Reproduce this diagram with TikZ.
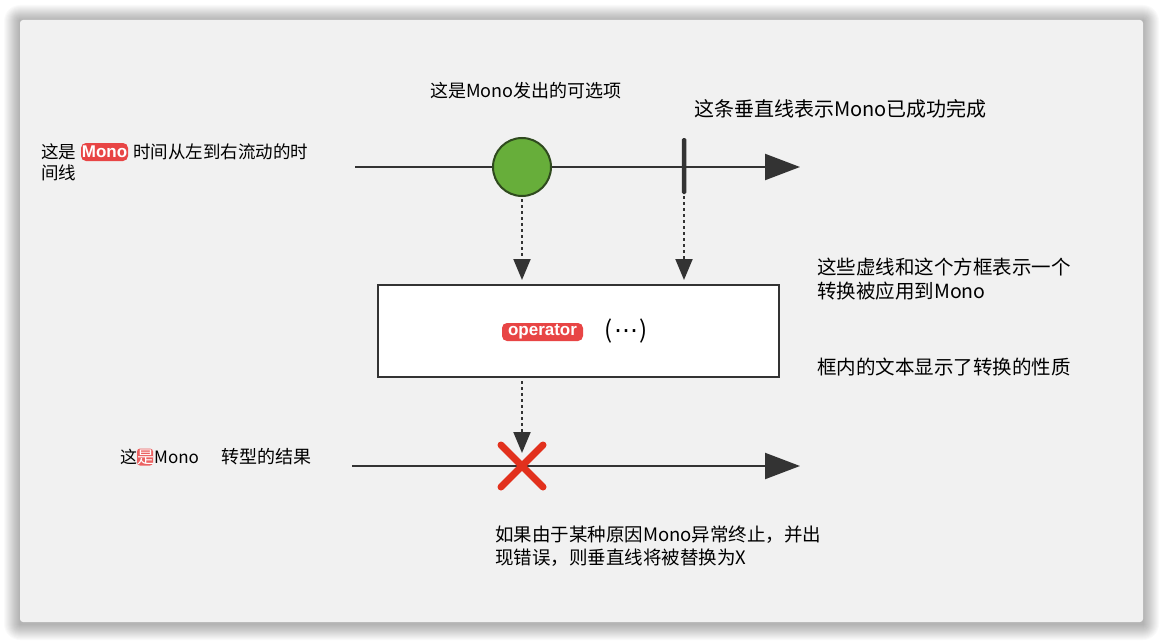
\documentclass[tikz,border=0pt]{standalone}
\usepackage{fontspec}
\setmainfont{Noto Sans CJK SC}
\newfontfamily\tagfont{Liberation Sans}
\newfontfamily\symfont{DejaVu Sans}
\usetikzlibrary{arrows.meta}
\definecolor{panel}{HTML}{F1F1F1}
\definecolor{ink}{HTML}{333333}
\definecolor{grn}{HTML}{67AE3A}
\definecolor{grnedge}{HTML}{2F4A1E}
\definecolor{xred}{HTML}{E2311D}
\definecolor{tagred}{HTML}{E84545}
\tikzset{
  note/.style={anchor=west, inner sep=0pt, align=left, text=black},
  timeline/.style={draw=ink, line width=2.2pt, -{Triangle[length=35pt,width=26pt]}},
  dasharrow/.style={draw=ink, line width=2pt, dash pattern=on 3pt off 3pt,
     -{Triangle[length=21pt,width=17pt]}},
  tagbox/.style={fill=tagred, rounded corners=5pt, inner sep=0pt, text=white,
     font=\tagfont\bfseries\fontsize{17}{17}\selectfont},
}
\begin{document}
\begin{tikzpicture}[x=1pt,y=-1pt]
\useasboundingbox (0,0) rectangle (1163,642);
\fill[white] (0,0) rectangle (1163,642);
% shadow
\foreach \i in {1,...,16}{
  \fill[black, opacity=0.018, rounded corners=\i pt] (20-\i,21-\i) rectangle (1143+\i,624+\i);
}
\fill[panel, rounded corners=3pt] (20,20) rectangle (1143,622);

% timeline 1
\coordinate (s1) at (355,167);
\coordinate (e1) at (800,167);
\draw[timeline] (s1) -- (e1);
\node[circle, draw=grnedge, line width=2pt, fill=grn, minimum size=58pt, inner sep=0pt] (emit) at (522,167) {};
\node[rectangle, fill=ink, minimum width=4.5pt, minimum height=56pt, inner sep=0pt, rounded corners=1.5pt] (done) at (684,166) {};

% operator box
\node[draw=ink, line width=2pt, fill=white, minimum width=401pt, minimum height=92pt, inner sep=0pt] (op) at (578.5,330.5) {};
\node[tagbox, minimum width=81pt, minimum height=18pt] (optag) at (542.5,332) {operator};
\node[inner sep=0pt, font=\fontsize{24}{24}\selectfont] (dots) at (626,331) {(\kern1pt{\symfont ⋯}\kern1pt)};

\coordinate (a1) at (522,280);
\coordinate (a2) at (684,280);
\draw[dasharrow] (emit.south) ++(0,2) -- (a1);
\draw[dasharrow] (done.south) ++(0,2) -- (a2);

% timeline 2
\coordinate (s2) at (352,466);
\coordinate (e2) at (800,466);
\draw[timeline] (s2) -- (e2);
\draw[xred, line width=7pt, line cap=round] (501,445) -- (543,487) (543,445) -- (501,487);
\coordinate (a3) at (522,453);
\coordinate (b3) at (522,381);
\draw[dasharrow] (b3) -- (a3);

% texts
\node[note, font=\fontsize{18}{18}\selectfont] (t1) at (430,91) {这是Mono发出的可选项};
\node[note, font=\fontsize{20}{20}\selectfont] (t2) at (694,109) {这条垂直线表示Mono已成功完成};

\node[tagbox, minimum width=47pt, minimum height=18pt] (monotag) at (104.5,152) {Mono};
\node[note, font=\fontsize{17.5}{17.5}\selectfont] (t3a) at (41,152) {这是};
\node[note, font=\fontsize{17.5}{17.5}\selectfont] (t3b) at (133,152) {时间从左到右流动的时};
\node[note, font=\fontsize{17.5}{17.5}\selectfont] (t3c) at (41,173) {间线};

\node[fill=tagred!85, rounded corners=3pt, minimum width=16pt, minimum height=17pt, inner sep=0pt] (shibg) at (145,457) {};
\node[note, font=\fontsize{17}{17}\selectfont] (t4a) at (120,457) {这\textcolor{white}{是}Mono};
\node[note, font=\fontsize{18}{18}\selectfont] (t4b) at (221,457) {转型的结果};

\node[note, font=\fontsize{19.5}{24}\selectfont] (t5) at (817,279) {这些虚线和这个方框表示一个\\转换被应用到Mono};
\node[note, font=\fontsize{19.5}{24}\selectfont] (t6) at (817,367) {框内的文本显示了转换的性质};
\node[note, font=\fontsize{18.5}{23}\selectfont] (t7) at (495,546) {如果由于某种原因Mono异常终止，并出\\现错误，则垂直线将被替换为X};
\end{tikzpicture}
\end{document}
